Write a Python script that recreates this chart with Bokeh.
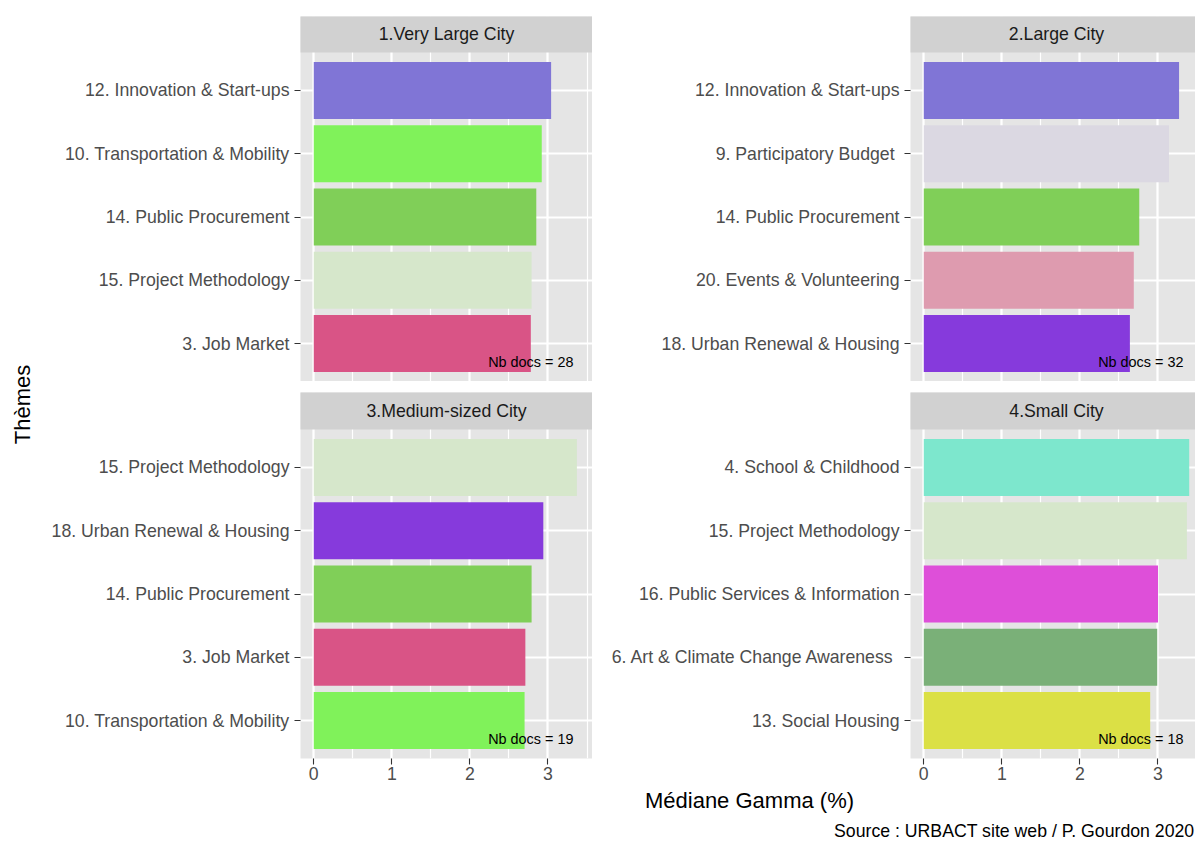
import math
from bokeh.plotting import figure
from bokeh.layouts import row, column
from bokeh.models import Range1d, FixedTicker, Label, Grid, ColumnDataSource
from bokeh.embed import file_html
from bokeh.resources import INLINE

# ---------------- data ----------------
panel_titles = ["1.Very Large City", "2.Large City", "3.Medium-sized City", "4.Small City"]
nb_docs = [28, 32, 19, 18]

themes_very_large = ["12. Innovation & Start-ups", "10. Transportation & Mobility",
                     "14. Public Procurement", "15. Project Methodology", "3. Job Market"]
gamma_very_large = [3.04, 2.92, 2.85, 2.79, 2.78]

themes_large = ["12. Innovation & Start-ups", "9. Participatory Budget ",
                "14. Public Procurement", "20. Events & Volunteering",
                "18. Urban Renewal & Housing"]
gamma_large = [3.27, 3.14, 2.76, 2.69, 2.64]

themes_medium = ["15. Project Methodology", "18. Urban Renewal & Housing",
                 "14. Public Procurement", "3. Job Market", "10. Transportation & Mobility"]
gamma_medium = [3.37, 2.94, 2.79, 2.71, 2.70]

themes_small = ["4. School & Childhood", "15. Project Methodology",
                "16. Public Services & Information", "6. Art & Climate Change Awareness ",
                "13. Social Housing"]
gamma_small = [3.40, 3.37, 3.00, 2.99, 2.90]

x_ticks = [0, 1, 2, 3]
x_minor_ticks = [0.5, 1.5, 2.5, 3.5]
x_title = "Médiane Gamma (%)"
y_title = "Thèmes"
caption = "Source : URBACT site web / P. Gourdon 2020"

# ---------------- styles ----------------
theme_colors = {
    "12. Innovation & Start-ups": "#8075D6",
    "10. Transportation & Mobility": "#80F25A",
    "14. Public Procurement": "#80CF58",
    "15. Project Methodology": "#D6E7CB",
    "3. Job Market": "#D95486",
    "9. Participatory Budget ": "#DBD8E2",
    "20. Events & Volunteering": "#DE9BAF",
    "18. Urban Renewal & Housing": "#863ADC",
    "4. School & Childhood": "#7DE7CD",
    "16. Public Services & Information": "#DE4FD9",
    "6. Art & Climate Change Awareness ": "#7AB078",
    "13. Social Housing": "#DBE045",
}

FONT = "Liberation Sans"
PANEL_BG = "#E5E5E5"
STRIP_BG = "#D1D1D1"
TICK_COL = "#333333"
LABEL_COL = "#4D4D4D"
STRIP_TXT = "#1A1A1A"
TXT_SIZE = "17.7px"

all_vals = gamma_very_large + gamma_large + gamma_medium + gamma_small
X_MAX = max(all_vals)
X_START = -0.05 * X_MAX
X_END = 1.05 * X_MAX
LEFT_FRAME_W = 292
PANEL_H = 329
NB_X = 2.78

PAGE_W = 1195
TOTAL_H = 841
THEMES_W = 40
LEFT_BORDER = 300 - THEMES_W
RIGHT_BORDER = 318
RIGHT_FRAME_W = PAGE_W - (THEMES_W + LEFT_BORDER + LEFT_FRAME_W + RIGHT_BORDER)
TOP_ROW_TOP = 16
ROW_GAP = 11
BOTTOM_AXIS = 28


def make_panel(title, themes, values, ndocs, frame_w, top_border, strip_h,
               bottom_border, left_border, show_x):
    n = len(themes)
    y_lo, y_hi = 0.4, n + 0.6
    upp = (y_hi - y_lo) / PANEL_H
    y_top = y_hi + strip_h * upp
    x_end = X_START + (X_END - X_START) * frame_w / LEFT_FRAME_W
    p = figure(frame_width=frame_w, frame_height=PANEL_H + strip_h,
               x_range=Range1d(X_START, x_end), y_range=Range1d(y_lo, y_top),
               x_axis_type="linear" if show_x else None,
               output_backend="svg", toolbar_location=None,
               min_border_left=left_border, min_border_right=0,
               min_border_top=top_border, min_border_bottom=bottom_border,
               background_fill_color=PANEL_BG, border_fill_color="white",
               outline_line_color=None)
    p.center = [r for r in p.center if not isinstance(r, Grid)]

    ys = list(range(n, 0, -1))
    xg = Grid(dimension=0, ticker=FixedTicker(ticks=x_ticks, minor_ticks=x_minor_ticks),
              grid_line_color="white", grid_line_width=2.2,
              minor_grid_line_color="white", minor_grid_line_width=1.2)
    yg = Grid(dimension=1, ticker=FixedTicker(ticks=ys),
              grid_line_color="white", grid_line_width=2.2)
    p.add_layout(xg, "center")
    p.add_layout(yg, "center")

    src = ColumnDataSource(dict(y=ys, v=values, c=[theme_colors[t] for t in themes]))
    p.hbar(y="y", left=0, right="v", height=0.9, fill_color="c", line_color=None,
           source=src)

    # facet strip
    p.quad(left=X_START - 1, right=x_end + 1, bottom=y_hi, top=y_top + 1,
           fill_color=STRIP_BG, line_color=None)
    p.add_layout(Label(x=(X_START + X_END) / 2, y=y_hi + 18.8 * upp, text=title,
                       text_align="center", text_baseline="alphabetic",
                       text_font=FONT, text_font_size=TXT_SIZE, text_color=STRIP_TXT))
    p.add_layout(Label(x=NB_X, y=y_lo + 20 * upp, text=f"Nb docs = {ndocs}",
                       text_align="center", text_baseline="alphabetic",
                       text_font=FONT, text_font_size="14.4px", text_color="black"))

    ax = p.yaxis[0]
    ax.ticker = FixedTicker(ticks=ys)
    ax.major_label_overrides = {y: t for y, t in zip(ys, themes)}
    ax.axis_line_color = None
    ax.major_tick_in = 0
    ax.major_tick_out = 6
    ax.major_tick_line_color = TICK_COL
    ax.major_tick_line_width = 1.1
    ax.minor_tick_line_color = None
    ax.major_label_text_font = FONT
    ax.major_label_text_font_size = TXT_SIZE
    ax.major_label_text_color = LABEL_COL
    ax.major_label_standoff = 5

    if show_x:
        xa = p.xaxis[0]
        xa.ticker = FixedTicker(ticks=x_ticks)
        xa.axis_line_color = None
        xa.major_tick_in = 0
        xa.major_tick_out = 6
        xa.major_tick_line_color = TICK_COL
        xa.major_tick_line_width = 1.1
        xa.minor_tick_line_color = None
        xa.major_label_text_font = FONT
        xa.major_label_text_font_size = TXT_SIZE
        xa.major_label_text_color = LABEL_COL
        xa.major_label_standoff = 2
    return p


p1 = make_panel(panel_titles[0], themes_very_large, gamma_very_large, nb_docs[0],
                LEFT_FRAME_W, TOP_ROW_TOP, 36, 0, LEFT_BORDER, False)
p2 = make_panel(panel_titles[1], themes_large, gamma_large, nb_docs[1],
                RIGHT_FRAME_W, TOP_ROW_TOP, 36, 0, RIGHT_BORDER, False)
p3 = make_panel(panel_titles[2], themes_medium, gamma_medium, nb_docs[2],
                LEFT_FRAME_W, ROW_GAP, 37, BOTTOM_AXIS, LEFT_BORDER, True)
p4 = make_panel(panel_titles[3], themes_small, gamma_small, nb_docs[3],
                RIGHT_FRAME_W, ROW_GAP, 37, BOTTOM_AXIS, RIGHT_BORDER, True)

grid_h = TOP_ROW_TOP + 36 + PANEL_H + ROW_GAP + 37 + PANEL_H + BOTTOM_AXIS
total_w = THEMES_W + LEFT_BORDER + LEFT_FRAME_W + RIGHT_BORDER + RIGHT_FRAME_W

# y-axis title
pt = figure(width=THEMES_W, height=grid_h, x_range=Range1d(0, THEMES_W),
            y_range=Range1d(0, grid_h), x_axis_type=None, y_axis_type=None,
            output_backend="svg", toolbar_location=None, min_border=0,
            outline_line_color=None)
pt.add_layout(Label(x=22, y=grid_h - 404, text=y_title, angle=math.pi / 2,
                    text_align="center", text_baseline="middle",
                    text_font=FONT, text_font_size="22px", text_color="black"))

# footer: x-axis title and caption
foot_h = TOTAL_H - grid_h
pf = figure(width=total_w, height=foot_h, x_range=Range1d(0, total_w),
            y_range=Range1d(0, foot_h), x_axis_type=None, y_axis_type=None,
            output_backend="svg", toolbar_location=None, min_border=0,
            outline_line_color=None)
pf.add_layout(Label(x=749, y=TOTAL_H - 800, text=x_title, text_align="center",
                    text_baseline="alphabetic", text_font=FONT,
                    text_font_size="22px", text_color="black"))
pf.add_layout(Label(x=total_w - 1, y=TOTAL_H - 830, text=caption, text_align="right",
                    text_baseline="alphabetic", text_font=FONT,
                    text_font_size=TXT_SIZE, text_color="black"))

layout = column(row(pt, column(row(p1, p2), row(p3, p4))), pf)

open("out.html", "w").write(file_html(layout, INLINE))
